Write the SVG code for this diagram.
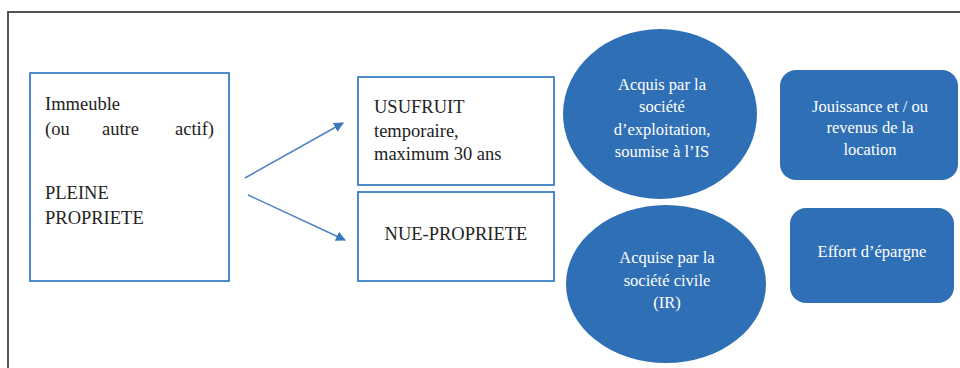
<svg xmlns="http://www.w3.org/2000/svg" width="960" height="368" viewBox="0 0 960 368">
<defs>
<style>
.box{fill:#fff;stroke:#3a7fc1;stroke-width:1.8}
.blue{fill:#2f6fb6}
.t{font-family:'Liberation Serif','DejaVu Serif',serif;font-size:18.5px;fill:#222}
.w{font-family:'Liberation Serif','DejaVu Serif',serif;font-size:16.5px;fill:#fff;text-anchor:middle}
.con{stroke:#4a82c3;stroke-width:1.5;fill:none}
</style>
<marker id="ah" viewBox="0 0 10 10" refX="9" refY="5" markerWidth="10" markerHeight="10" markerUnits="userSpaceOnUse" orient="auto">
<path d="M0,0 L10,5 L0,10 z" fill="#3a78c0"/>
</marker>
</defs>
<rect width="960" height="368" fill="#fff"/>
<path d="M8,368 V12 H960" fill="none" stroke="#555" stroke-width="2"/>

<g id="pleine">
<rect class="box" x="30" y="73" width="199" height="208"/>
<text class="t" x="45" y="110">Immeuble</text>
<text class="t" y="135"><tspan x="45">(ou</tspan><tspan x="102">autre</tspan><tspan x="175">actif)</tspan></text>
<text class="t" x="45" y="199">PLEINE</text>
<text class="t" x="45" y="224">PROPRIETE</text>
</g>

<g id="usufruit">
<rect class="box" x="358" y="77" width="196" height="108"/>
<text class="t" x="374" y="113">USUFRUIT</text>
<text class="t" x="374" y="137">temporaire,</text>
<text class="t" x="374" y="160">maximum 30 ans</text>
</g>

<g id="nue">
<rect class="box" x="358" y="192" width="196" height="89"/>
<text class="t" x="456" y="240" text-anchor="middle">NUE-PROPRIETE</text>
</g>

<g id="connectors">
<line class="con" x1="245" y1="178" x2="343" y2="123" marker-end="url(#ah)"/>
<line class="con" x1="248" y1="195" x2="345" y2="240" marker-end="url(#ah)"/>
</g>

<g id="exploitation">
<ellipse class="blue" cx="660" cy="114" rx="97" ry="85"/>
<text class="w" x="662" y="90">Acquis par la</text>
<text class="w" x="662" y="112">société</text>
<text class="w" x="662" y="135">d’exploitation,</text>
<text class="w" x="662" y="157">soumise à l’IS</text>
</g>

<g id="civile">
<ellipse class="blue" cx="666" cy="284" rx="100" ry="79"/>
<text class="w" x="667" y="263">Acquise par la</text>
<text class="w" x="667" y="286">société civile</text>
<text class="w" x="667" y="308">(IR)</text>
</g>

<g id="jouissance">
<rect class="blue" x="780" y="70" width="178" height="110" rx="16"/>
<text class="w" x="870" y="112">Jouissance et / ou</text>
<text class="w" x="870" y="133">revenus de la</text>
<text class="w" x="870" y="155">location</text>
</g>

<g id="epargne">
<rect class="blue" x="790" y="208" width="164" height="95" rx="16"/>
<text class="w" x="872" y="257">Effort d’épargne</text>
</g>
</svg>
